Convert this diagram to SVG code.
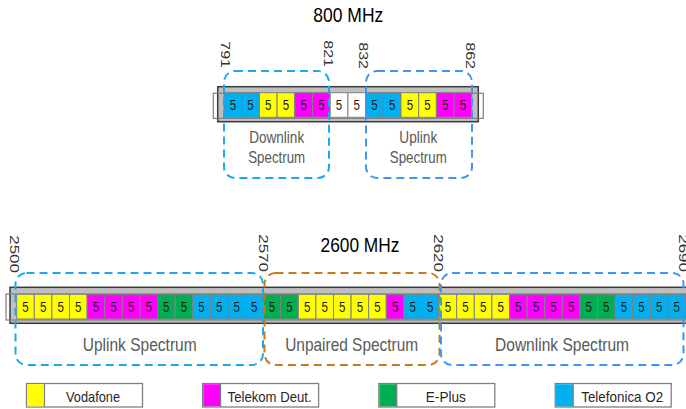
<svg xmlns="http://www.w3.org/2000/svg" width="686" height="409" viewBox="0 0 686 409">
<style>
text{font-family:"Liberation Sans",Arial,sans-serif}
.bar{fill:#BFBFBF;stroke:#3A3A3A;stroke-width:1.5}
.thin{fill:none;stroke:#7F7F7F;stroke-width:1.2}
.c{stroke:#808080;stroke-width:1}
.y{fill:#FFFF00}.m{fill:#FF00FF}.g{fill:#00B050}.b{fill:#00B0F0}.w{fill:#FFFFFF}
.n{font-size:14px;fill:#1A1A1A;text-anchor:middle}
.fq{font-size:16px;fill:#333333;text-anchor:end}
.fq2{font-size:17px;fill:#333333;text-anchor:end}
.title{fill:#000000;text-anchor:middle}
.lbl{fill:#595959;text-anchor:middle}
.dl{fill:none;stroke:#1EA8EC;stroke-width:2;stroke-dasharray:8 5}
.ul{fill:none;stroke:#3C96F2;stroke-width:2;stroke-dasharray:8 5}
.up{fill:none;stroke:#C87A1E;stroke-width:2;stroke-dasharray:8 5}
.lg{fill:#FFFFFF;stroke:#808080;stroke-width:1.3}
.lt{font-size:15px;fill:#262626;text-anchor:middle}
</style>

<g id="band-800">
  <text class="title" x="348.3" y="22" font-size="21" textLength="70" lengthAdjust="spacingAndGlyphs">800 MHz</text>
  <rect class="bar" x="217.7" y="86.7" width="260.6" height="35"/>
  <rect class="thin" x="213.3" y="93.3" width="270" height="25"/>
  <g id="cells-800">
    <rect class="c b" x="224" y="92.7" width="17.7" height="24.6"/>
    <rect class="c b" x="241.7" y="92.7" width="17.7" height="24.6"/>
    <rect class="c y" x="259.4" y="92.7" width="17.7" height="24.6"/>
    <rect class="c y" x="277.1" y="92.7" width="17.7" height="24.6"/>
    <rect class="c m" x="294.8" y="92.7" width="17.7" height="24.6"/>
    <rect class="c m" x="312.5" y="92.7" width="17.7" height="24.6"/>
    <rect class="c w" x="330.2" y="92.7" width="17.7" height="24.6"/>
    <rect class="c w" x="347.9" y="92.7" width="17.7" height="24.6"/>
    <rect class="c b" x="365.6" y="92.7" width="17.7" height="24.6"/>
    <rect class="c b" x="383.3" y="92.7" width="17.7" height="24.6"/>
    <rect class="c y" x="401" y="92.7" width="17.7" height="24.6"/>
    <rect class="c y" x="418.7" y="92.7" width="17.7" height="24.6"/>
    <rect class="c m" x="436.4" y="92.7" width="17.7" height="24.6"/>
    <rect class="c m" x="454.1" y="92.7" width="17.7" height="24.6"/>
    <text class="n" x="232.85" y="110" textLength="6.4" lengthAdjust="spacingAndGlyphs">5</text>
    <text class="n" x="250.55" y="110" textLength="6.4" lengthAdjust="spacingAndGlyphs">5</text>
    <text class="n" x="268.25" y="110" textLength="6.4" lengthAdjust="spacingAndGlyphs">5</text>
    <text class="n" x="285.95" y="110" textLength="6.4" lengthAdjust="spacingAndGlyphs">5</text>
    <text class="n" x="303.65" y="110" textLength="6.4" lengthAdjust="spacingAndGlyphs">5</text>
    <text class="n" x="321.35" y="110" textLength="6.4" lengthAdjust="spacingAndGlyphs">5</text>
    <text class="n" x="339.05" y="110" textLength="6.4" lengthAdjust="spacingAndGlyphs">5</text>
    <text class="n" x="356.75" y="110" textLength="6.4" lengthAdjust="spacingAndGlyphs">5</text>
    <text class="n" x="374.45" y="110" textLength="6.4" lengthAdjust="spacingAndGlyphs">5</text>
    <text class="n" x="392.15" y="110" textLength="6.4" lengthAdjust="spacingAndGlyphs">5</text>
    <text class="n" x="409.85" y="110" textLength="6.4" lengthAdjust="spacingAndGlyphs">5</text>
    <text class="n" x="427.55" y="110" textLength="6.4" lengthAdjust="spacingAndGlyphs">5</text>
    <text class="n" x="445.25" y="110" textLength="6.4" lengthAdjust="spacingAndGlyphs">5</text>
    <text class="n" x="462.95" y="110" textLength="6.4" lengthAdjust="spacingAndGlyphs">5</text>
  </g>
  <g id="freq-800">
    <text class="fq" transform="translate(221.1,68) rotate(90) scale(1,0.8)">791</text>
    <text class="fq" transform="translate(324.4,67) rotate(90) scale(1,0.8)">821</text>
    <text class="fq" transform="translate(359.4,69) rotate(90) scale(1,0.8)">832</text>
    <text class="fq" transform="translate(466.4,69) rotate(90) scale(1,0.8)">862</text>
  </g>
  <g id="dl-800">
    <rect class="dl" x="224" y="71" width="105" height="107" rx="11"/>
    <text class="lbl" x="276.7" y="143.3" font-size="17" textLength="55" lengthAdjust="spacingAndGlyphs">Downlink</text>
    <text class="lbl" x="276.7" y="163.3" font-size="17" textLength="57" lengthAdjust="spacingAndGlyphs">Spectrum</text>
  </g>
  <g id="ul-800">
    <rect class="ul" x="366" y="71" width="106" height="107" rx="11"/>
    <text class="lbl" x="418.3" y="143.3" font-size="17" textLength="38" lengthAdjust="spacingAndGlyphs">Uplink</text>
    <text class="lbl" x="418.3" y="163.3" font-size="17" textLength="57" lengthAdjust="spacingAndGlyphs">Spectrum</text>
  </g>
</g>

<g id="band-2600">
  <text class="title" x="360" y="252" font-size="20" textLength="79" lengthAdjust="spacingAndGlyphs">2600 MHz</text>
  <rect class="bar" x="10" y="287.3" width="690" height="36"/>
  <rect class="thin" x="6" y="294" width="700" height="26"/>
  <g id="cells-2600">
    <rect class="c y" x="16.7" y="294.3" width="17.6" height="24.7"/>
    <rect class="c y" x="34.3" y="294.3" width="17.6" height="24.7"/>
    <rect class="c y" x="51.9" y="294.3" width="17.6" height="24.7"/>
    <rect class="c y" x="69.5" y="294.3" width="17.6" height="24.7"/>
    <rect class="c m" x="87.1" y="294.3" width="17.6" height="24.7"/>
    <rect class="c m" x="104.7" y="294.3" width="17.6" height="24.7"/>
    <rect class="c m" x="122.3" y="294.3" width="17.6" height="24.7"/>
    <rect class="c m" x="139.9" y="294.3" width="17.6" height="24.7"/>
    <rect class="c g" x="157.5" y="294.3" width="17.6" height="24.7"/>
    <rect class="c g" x="175.1" y="294.3" width="17.6" height="24.7"/>
    <rect class="c b" x="192.7" y="294.3" width="17.6" height="24.7"/>
    <rect class="c b" x="210.3" y="294.3" width="17.6" height="24.7"/>
    <rect class="c b" x="227.9" y="294.3" width="17.6" height="24.7"/>
    <rect class="c b" x="245.5" y="294.3" width="17.6" height="24.7"/>
    <rect class="c g" x="263.1" y="294.3" width="17.6" height="24.7"/>
    <rect class="c g" x="280.7" y="294.3" width="17.6" height="24.7"/>
    <rect class="c y" x="298.3" y="294.3" width="17.6" height="24.7"/>
    <rect class="c y" x="315.9" y="294.3" width="17.6" height="24.7"/>
    <rect class="c y" x="333.5" y="294.3" width="17.6" height="24.7"/>
    <rect class="c y" x="351.1" y="294.3" width="17.6" height="24.7"/>
    <rect class="c y" x="368.7" y="294.3" width="17.6" height="24.7"/>
    <rect class="c m" x="386.3" y="294.3" width="17.6" height="24.7"/>
    <rect class="c b" x="403.9" y="294.3" width="17.6" height="24.7"/>
    <rect class="c b" x="421.5" y="294.3" width="17.6" height="24.7"/>
    <rect class="c y" x="439.1" y="294.3" width="17.6" height="24.7"/>
    <rect class="c y" x="456.7" y="294.3" width="17.6" height="24.7"/>
    <rect class="c y" x="474.3" y="294.3" width="17.6" height="24.7"/>
    <rect class="c y" x="491.9" y="294.3" width="17.6" height="24.7"/>
    <rect class="c m" x="509.5" y="294.3" width="17.6" height="24.7"/>
    <rect class="c m" x="527.1" y="294.3" width="17.6" height="24.7"/>
    <rect class="c m" x="544.7" y="294.3" width="17.6" height="24.7"/>
    <rect class="c m" x="562.3" y="294.3" width="17.6" height="24.7"/>
    <rect class="c g" x="579.9" y="294.3" width="17.6" height="24.7"/>
    <rect class="c g" x="597.5" y="294.3" width="17.6" height="24.7"/>
    <rect class="c b" x="615.1" y="294.3" width="17.6" height="24.7"/>
    <rect class="c b" x="632.7" y="294.3" width="17.6" height="24.7"/>
    <rect class="c b" x="650.3" y="294.3" width="17.6" height="24.7"/>
    <rect class="c b" x="667.9" y="294.3" width="17.6" height="24.7"/>
    <text class="n" x="25.5" y="312" textLength="6.4" lengthAdjust="spacingAndGlyphs">5</text>
    <text class="n" x="43.1" y="312" textLength="6.4" lengthAdjust="spacingAndGlyphs">5</text>
    <text class="n" x="60.7" y="312" textLength="6.4" lengthAdjust="spacingAndGlyphs">5</text>
    <text class="n" x="78.3" y="312" textLength="6.4" lengthAdjust="spacingAndGlyphs">5</text>
    <text class="n" x="95.9" y="312" textLength="6.4" lengthAdjust="spacingAndGlyphs">5</text>
    <text class="n" x="113.5" y="312" textLength="6.4" lengthAdjust="spacingAndGlyphs">5</text>
    <text class="n" x="131.1" y="312" textLength="6.4" lengthAdjust="spacingAndGlyphs">5</text>
    <text class="n" x="148.7" y="312" textLength="6.4" lengthAdjust="spacingAndGlyphs">5</text>
    <text class="n" x="166.3" y="312" textLength="6.4" lengthAdjust="spacingAndGlyphs">5</text>
    <text class="n" x="183.9" y="312" textLength="6.4" lengthAdjust="spacingAndGlyphs">5</text>
    <text class="n" x="201.5" y="312" textLength="6.4" lengthAdjust="spacingAndGlyphs">5</text>
    <text class="n" x="219.1" y="312" textLength="6.4" lengthAdjust="spacingAndGlyphs">5</text>
    <text class="n" x="236.7" y="312" textLength="6.4" lengthAdjust="spacingAndGlyphs">5</text>
    <text class="n" x="254.3" y="312" textLength="6.4" lengthAdjust="spacingAndGlyphs">5</text>
    <text class="n" x="271.9" y="312" textLength="6.4" lengthAdjust="spacingAndGlyphs">5</text>
    <text class="n" x="289.5" y="312" textLength="6.4" lengthAdjust="spacingAndGlyphs">5</text>
    <text class="n" x="307.1" y="312" textLength="6.4" lengthAdjust="spacingAndGlyphs">5</text>
    <text class="n" x="324.7" y="312" textLength="6.4" lengthAdjust="spacingAndGlyphs">5</text>
    <text class="n" x="342.3" y="312" textLength="6.4" lengthAdjust="spacingAndGlyphs">5</text>
    <text class="n" x="359.9" y="312" textLength="6.4" lengthAdjust="spacingAndGlyphs">5</text>
    <text class="n" x="377.5" y="312" textLength="6.4" lengthAdjust="spacingAndGlyphs">5</text>
    <text class="n" x="395.1" y="312" textLength="6.4" lengthAdjust="spacingAndGlyphs">5</text>
    <text class="n" x="412.7" y="312" textLength="6.4" lengthAdjust="spacingAndGlyphs">5</text>
    <text class="n" x="430.3" y="312" textLength="6.4" lengthAdjust="spacingAndGlyphs">5</text>
    <text class="n" x="447.9" y="312" textLength="6.4" lengthAdjust="spacingAndGlyphs">5</text>
    <text class="n" x="465.5" y="312" textLength="6.4" lengthAdjust="spacingAndGlyphs">5</text>
    <text class="n" x="483.1" y="312" textLength="6.4" lengthAdjust="spacingAndGlyphs">5</text>
    <text class="n" x="500.7" y="312" textLength="6.4" lengthAdjust="spacingAndGlyphs">5</text>
    <text class="n" x="518.3" y="312" textLength="6.4" lengthAdjust="spacingAndGlyphs">5</text>
    <text class="n" x="535.9" y="312" textLength="6.4" lengthAdjust="spacingAndGlyphs">5</text>
    <text class="n" x="553.5" y="312" textLength="6.4" lengthAdjust="spacingAndGlyphs">5</text>
    <text class="n" x="571.1" y="312" textLength="6.4" lengthAdjust="spacingAndGlyphs">5</text>
    <text class="n" x="588.7" y="312" textLength="6.4" lengthAdjust="spacingAndGlyphs">5</text>
    <text class="n" x="606.3" y="312" textLength="6.4" lengthAdjust="spacingAndGlyphs">5</text>
    <text class="n" x="623.9" y="312" textLength="6.4" lengthAdjust="spacingAndGlyphs">5</text>
    <text class="n" x="641.5" y="312" textLength="6.4" lengthAdjust="spacingAndGlyphs">5</text>
    <text class="n" x="659.1" y="312" textLength="6.4" lengthAdjust="spacingAndGlyphs">5</text>
    <text class="n" x="676.7" y="312" textLength="6.4" lengthAdjust="spacingAndGlyphs">5</text>
  </g>
  <g id="freq-2600">
    <text class="fq2" transform="translate(10.4,273) rotate(90) scale(1,0.8)">2500</text>
    <text class="fq2" transform="translate(258.7,272) rotate(90) scale(1,0.8)">2570</text>
    <text class="fq2" transform="translate(433.7,272) rotate(90) scale(1,0.8)">2620</text>
    <text class="fq2" transform="translate(679,272) rotate(90) scale(1,0.8)">2690</text>
  </g>
  <g id="ul-2600">
    <rect class="dl" x="15.5" y="273" width="247.5" height="92" rx="11"/>
    <text class="lbl" x="139.7" y="351" font-size="19" textLength="114" lengthAdjust="spacingAndGlyphs">Uplink Spectrum</text>
  </g>
  <g id="unpaired-2600">
    <rect class="up" x="264.5" y="273" width="175" height="92" rx="11"/>
    <text class="lbl" x="351.7" y="351" font-size="19" textLength="133" lengthAdjust="spacingAndGlyphs">Unpaired Spectrum</text>
  </g>
  <g id="dl-2600">
    <rect class="ul" x="441" y="273" width="242.5" height="92" rx="11"/>
    <text class="lbl" x="562" y="351" font-size="19" textLength="134" lengthAdjust="spacingAndGlyphs">Downlink Spectrum</text>
  </g>
</g>

<g id="legend">
  <g id="legend-vodafone">
    <rect class="lg" x="26.5" y="383.5" width="116" height="23.5"/>
    <rect class="y" x="27.2" y="384.2" width="17.3" height="22.1"/>
    <line x1="44.5" y1="383.5" x2="44.5" y2="407" stroke="#808080" stroke-width="1.2"/>
    <text class="lt" x="93" y="401.5" textLength="54" lengthAdjust="spacingAndGlyphs">Vodafone</text>
  </g>
  <g id="legend-telekom">
    <rect class="lg" x="202.6" y="383.5" width="116" height="23.5"/>
    <rect class="m" x="203.3" y="384.2" width="17.3" height="22.1"/>
    <line x1="220.6" y1="383.5" x2="220.6" y2="407" stroke="#808080" stroke-width="1.2"/>
    <text class="lt" x="269.6" y="401.5" textLength="84" lengthAdjust="spacingAndGlyphs">Telekom Deut.</text>
  </g>
  <g id="legend-eplus">
    <rect class="lg" x="378.8" y="383.5" width="116" height="23.5"/>
    <rect class="g" x="379.5" y="384.2" width="17.3" height="22.1"/>
    <line x1="396.8" y1="383.5" x2="396.8" y2="407" stroke="#808080" stroke-width="1.2"/>
    <text class="lt" x="445.8" y="401.5" textLength="40" lengthAdjust="spacingAndGlyphs">E-Plus</text>
  </g>
  <g id="legend-o2">
    <rect class="lg" x="555.2" y="383.5" width="116" height="23.5"/>
    <rect class="b" x="555.9" y="384.2" width="17.3" height="22.1"/>
    <line x1="573.2" y1="383.5" x2="573.2" y2="407" stroke="#808080" stroke-width="1.2"/>
    <text class="lt" x="622.2" y="401.5" textLength="82" lengthAdjust="spacingAndGlyphs">Telefonica O2</text>
  </g>
</g>
</svg>
